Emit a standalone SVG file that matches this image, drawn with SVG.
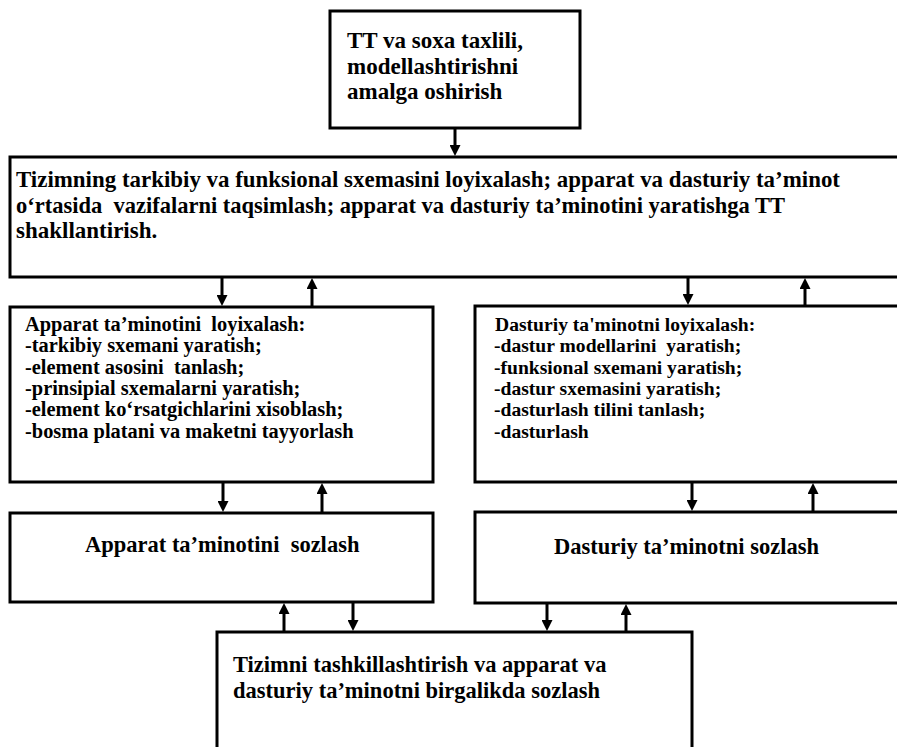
<svg xmlns="http://www.w3.org/2000/svg" width="897" height="747" viewBox="0 0 897 747">
  <style>
    .box { fill: #ffffff; stroke: #000000; stroke-width: 3; }
    .lbl { font-family: "Liberation Serif", "Times New Roman", serif; font-weight: bold; fill: #000000; white-space: pre; }
    .f23 { font-size: 23px; }
    .f22 { font-size: 22.5px; }
    .f20 { font-size: 20.4px; }
    .f19 { font-size: 19.6px; }
    .conn { stroke: #000000; stroke-width: 3; fill: none; marker-end: url(#head); }
  </style>
  <defs>
    <marker id="head" viewBox="0 0 10 10" refX="4.5" refY="5" markerWidth="11" markerHeight="11" markerUnits="userSpaceOnUse" orient="auto">
      <path d="M0,0 L10,5 L0,10 z" fill="#000000"/>
    </marker>
  </defs>

  <rect width="897" height="747" fill="#ffffff"/>

  <!-- boxes -->
  <g id="n-tt">
    <rect class="box" x="330" y="11" width="250" height="117"/>
    <text class="lbl f23" x="347" y="48">TT va soxa taxlili,</text>
    <text class="lbl f23" x="347" y="74">modellashtirishni</text>
    <text class="lbl f23" x="347" y="99">amalga oshirish</text>
  </g>

  <g id="n-tizim">
    <rect class="box" x="10" y="157" width="900" height="120"/>
    <text class="lbl f23" x="16" y="187" textLength="824" lengthAdjust="spacingAndGlyphs">Tizimning tarkibiy va funksional sxemasini loyixalash; apparat va dasturiy ta’minot</text>
    <text class="lbl f23" x="16" y="213" textLength="769" lengthAdjust="spacingAndGlyphs">o‘rtasida  vazifalarni taqsimlash; apparat va dasturiy ta’minotini yaratishga TT</text>
    <text class="lbl f23" x="16" y="238">shakllantirish.</text>
  </g>

  <g id="n-apparat-loyiha">
    <rect class="box" x="10" y="307" width="423" height="175"/>
    <text class="lbl f20" x="25" y="331">Apparat ta’minotini  loyixalash:</text>
    <text class="lbl f20" x="25" y="352">-tarkibiy sxemani yaratish;</text>
    <text class="lbl f20" x="25" y="374">-element asosini  tanlash;</text>
    <text class="lbl f20" x="25" y="395">-prinsipial sxemalarni yaratish;</text>
    <text class="lbl f20" x="25" y="416">-element ko‘rsatgichlarini xisoblash;</text>
    <text class="lbl f20" x="25" y="438">-bosma platani va maketni tayyorlash</text>
  </g>

  <g id="n-dastur-loyiha">
    <rect class="box" x="475" y="306" width="440" height="176"/>
    <text class="lbl f19" x="495" y="331">Dasturiy ta'minotni loyixalash:</text>
    <text class="lbl f19" x="494" y="352">-dastur modellarini  yaratish;</text>
    <text class="lbl f19" x="494" y="374">-funksional sxemani yaratish;</text>
    <text class="lbl f19" x="494" y="395">-dastur sxemasini yaratish;</text>
    <text class="lbl f19" x="494" y="416">-dasturlash tilini tanlash;</text>
    <text class="lbl f19" x="494" y="438">-dasturlash</text>
  </g>

  <g id="n-apparat-sozlash">
    <rect class="box" x="10" y="513" width="423" height="89"/>
    <text class="lbl f22" x="85" y="552">Apparat ta’minotini  sozlash</text>
  </g>

  <g id="n-dastur-sozlash">
    <rect class="box" x="475" y="512" width="440" height="91"/>
    <text class="lbl f22" x="554" y="554">Dasturiy ta’minotni sozlash</text>
  </g>

  <g id="n-birgalikda">
    <rect class="box" x="217" y="632" width="475" height="130"/>
    <text class="lbl f22" x="233" y="672">Tizimni tashkillashtirish va apparat va</text>
    <text class="lbl f22" x="233" y="698">dasturiy ta’minotni birgalikda sozlash</text>
  </g>

  <!-- connectors -->
  <g id="connectors">
    <line class="conn" x1="455" y1="128" x2="455" y2="150"/>
    <line class="conn" x1="222" y1="277" x2="222" y2="300"/>
    <line class="conn" x1="312" y1="307" x2="312" y2="284"/>
    <line class="conn" x1="688" y1="277" x2="688" y2="299"/>
    <line class="conn" x1="805" y1="306" x2="805" y2="284"/>
    <line class="conn" x1="223" y1="482" x2="223" y2="506"/>
    <line class="conn" x1="322" y1="513" x2="322" y2="489"/>
    <line class="conn" x1="692" y1="482" x2="692" y2="505"/>
    <line class="conn" x1="813" y1="512" x2="813" y2="489"/>
    <line class="conn" x1="284" y1="632" x2="284" y2="609"/>
    <line class="conn" x1="353" y1="602" x2="353" y2="625"/>
    <line class="conn" x1="547" y1="603" x2="547" y2="625"/>
    <line class="conn" x1="626" y1="632" x2="626" y2="610"/>
  </g>
</svg>
